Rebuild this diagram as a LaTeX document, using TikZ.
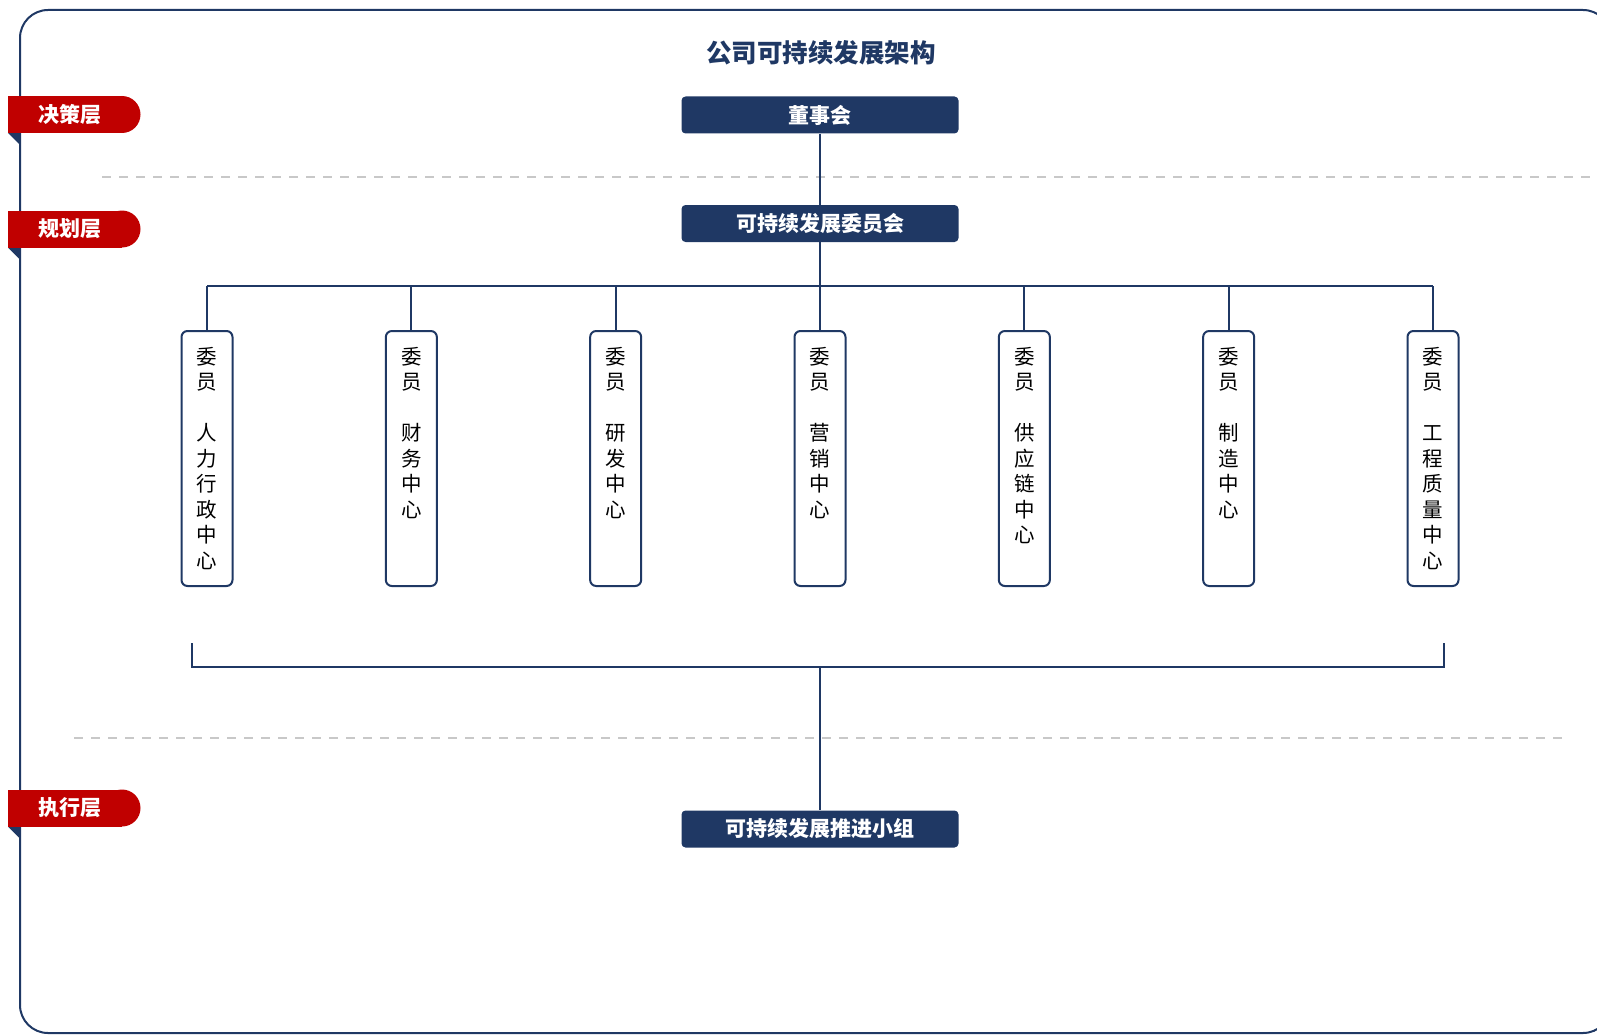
\documentclass[tikz,border=0pt]{standalone}
\usepackage{fontspec}
\newfontfamily\cjk{Noto Sans CJK SC}
\usetikzlibrary{positioning}
\definecolor{navy}{RGB}{31,56,100}
\definecolor{tagred}{RGB}{192,0,0}
\definecolor{dashgray}{RGB}{200,200,200}
\newcommand*{\colW}{204.33}
\newcommand*{\colX}{207}

\begin{document}
\begin{tikzpicture}[x=1pt,y=-1pt,
	hbox/.style={rectangle,rounded corners=4pt,fill=navy,text=white,font=\cjk\bfseries\fontsize{21}{21}\selectfont,minimum width=277pt,minimum height=37pt,inner sep=0pt},
	vbox/.style={rectangle,rounded corners=6pt,draw=navy,line width=2pt,fill=white,minimum width=51pt,minimum height=255pt,inner sep=0pt},
	vtext/.style={anchor=north,align=center,inner sep=0pt,font=\cjk\fontsize{20.5}{25.5}\selectfont},
	link/.style={navy,line width=1.9pt},
	bracket/.style={navy,line width=2.7pt},
	sep/.style={dashgray,line width=2.4pt,dash pattern=on 9pt off 8pt},
	tagtext/.style={text=white,font=\cjk\bfseries\fontsize{21}{21}\selectfont},
	title/.style={text=navy,font=\cjk\bfseries\fontsize{25.5}{25.5}\selectfont}]
	\useasboundingbox (0,0) rectangle (1597,1035);
	% frame and layer separators
	\draw[navy,line width=2pt,rounded corners=28pt] (20,10) rectangle (1611,1033);
	\draw[sep] (102,177) -- (1597,177);
	\draw[sep] (74,738) -- (1569,738);
	% layer tags
	\foreach \y/\lab/\name in {114.5/jc/决策层,229/gh/规划层,808/zx/执行层}{
		\fill[navy] (8,\y+18.5) -- (20,\y+18.5) -- (20,\y+30.5) -- cycle;
		\fill[tagred] (8,\y-18.5) rectangle (122,\y+18.5);
		\fill[tagred] (122,\y) circle (18.5pt);
		\node[tagtext] (\lab) at (70,\y) {\name};
	}
	\node[title] (ttl) at (821,53) {公司可持续发展架构};
	\node[hbox] (dsh) at (820,115) {董事会};
	\node[hbox] (wyh) at (820,223.5) {可持续发展委员会};
	\node[hbox] (tjxz) at (820,829) {可持续发展推进小组};
	% committee members
	\foreach \i/\name in {0/{人\\力\\行\\政\\中\\心},1/{财\\务\\中\\心},2/{研\\发\\中\\心},3/{营\\销\\中\\心},4/{供\\应\\链\\中\\心},5/{制\\造\\中\\心},6/{工\\程\\质\\量\\中\\心}}{
		\node[vbox] (c\i) at ({\colX+\i*\colW},458.5) {};
		\node[vtext] (t\i) at ({\colX+\i*\colW},347) {委\\员\\[25.5pt]\name};
	}
	\coordinate (bus) at (820,286);
	\draw[link] (dsh.south) -- (wyh.north);
	\draw[link] (wyh.south) -- (bus);
	\draw[link] (c0.north |- bus) -- (c6.north |- bus);
	\foreach \i in {0,...,6} \draw[link] (c\i.north) -- (c\i.north |- bus);
	% bracket to the working group
	\coordinate (bl) at (192,643);
	\coordinate (br) at (1444,643);
	\coordinate (bm) at (820,667);
	\draw[bracket] (bl) |- (bm) -| (br);
	\draw[link] (bm) -- (tjxz.north);
\end{tikzpicture}
\end{document}
